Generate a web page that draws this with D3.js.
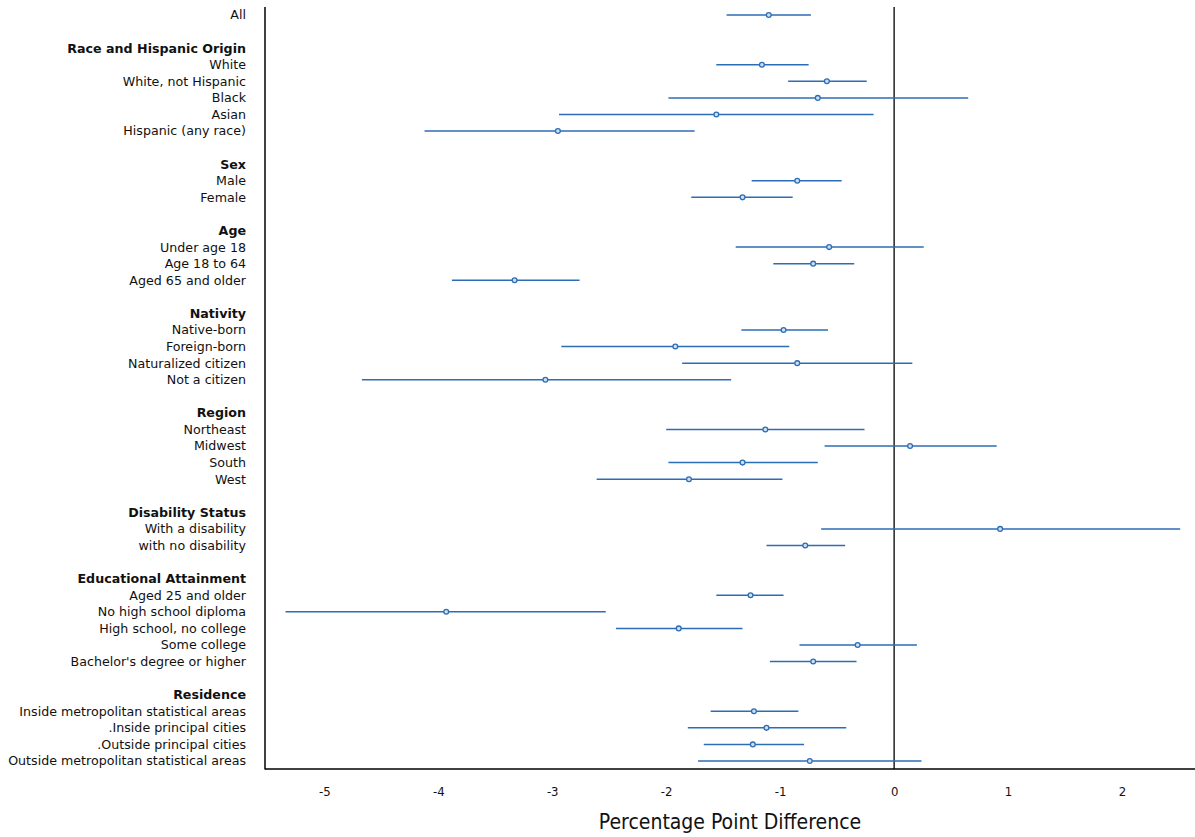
<!DOCTYPE html>
<html><head><meta charset="utf-8">
<script src="https://cdn.jsdelivr.net/npm/d3@7"></script>
<style>
body{margin:0;background:#fff;}
svg{display:block;}
.lbl{font-family:"DejaVu Sans",sans-serif;font-size:12.65px;fill:#111;}
.hdr{font-weight:bold;}
.tick text{font-family:"DejaVu Sans Condensed","DejaVu Sans",sans-serif;font-stretch:condensed;font-size:13px;fill:#111;}
.title{font-family:"DejaVu Sans Condensed","DejaVu Sans",sans-serif;font-stretch:condensed;font-size:21px;fill:#111;}
</style>
</head><body>
<svg id="chart" width="1195" height="837"></svg>
<script>
// Row labels (empty strings are spacer rows), header flags
const rowLabels = ["All","","Race and Hispanic Origin","White","White, not Hispanic","Black","Asian","Hispanic (any race)","",
 "Sex","Male","Female","","Age","Under age 18","Age 18 to 64","Aged 65 and older","",
 "Nativity","Native-born","Foreign-born","Naturalized citizen","Not a citizen","",
 "Region","Northeast","Midwest","South","West","",
 "Disability Status","With a disability","with no disability","",
 "Educational Attainment","Aged 25 and older","No high school diploma","High school, no college","Some college","Bachelor's degree or higher","",
 "Residence","Inside metropolitan statistical areas",".Inside principal cities",".Outside principal cities","Outside metropolitan statistical areas"];
const headers = ["Race and Hispanic Origin","Sex","Age","Nativity","Region","Disability Status","Educational Attainment","Residence"];

// Estimates and confidence interval bounds (percentage points)
const categories = ["All","White","White, not Hispanic","Black","Asian","Hispanic (any race)","Male","Female",
 "Under age 18","Age 18 to 64","Aged 65 and older","Native-born","Foreign-born","Naturalized citizen","Not a citizen",
 "Northeast","Midwest","South","West","With a disability","with no disability",
 "Aged 25 and older","No high school diploma","High school, no college","Some college","Bachelor's degree or higher",
 "Inside metropolitan statistical areas",".Inside principal cities",".Outside principal cities","Outside metropolitan statistical areas"];
const estimates = [-1.10,-1.16,-0.59,-0.67,-1.56,-2.95,-0.85,-1.33,
 -0.57,-0.71,-3.33,-0.97,-1.92,-0.85,-3.06,
 -1.13,0.14,-1.33,-1.80,0.93,-0.78,
 -1.26,-3.93,-1.89,-0.32,-0.71,
 -1.23,-1.12,-1.24,-0.74];
const lower = [-1.47,-1.56,-0.93,-1.98,-2.94,-4.12,-1.25,-1.78,
 -1.39,-1.06,-3.88,-1.34,-2.92,-1.86,-4.67,
 -2.00,-0.61,-1.98,-2.61,-0.64,-1.12,
 -1.56,-5.34,-2.44,-0.83,-1.09,
 -1.61,-1.81,-1.67,-1.72];
const upper = [-0.73,-0.75,-0.24,0.65,-0.18,-1.75,-0.46,-0.89,
 0.26,-0.35,-2.76,-0.58,-0.92,0.16,-1.43,
 -0.26,0.90,-0.67,-0.98,2.51,-0.43,
 -0.97,-2.53,-1.33,0.20,-0.33,
 -0.84,-0.42,-0.79,0.24];
const xTicks = [-5,-4,-3,-2,-1,0,1,2];
const xTitle = "Percentage Point Difference";

const svg = d3.select("#chart");
const pLeft = 265, pRight = 1195, pTop = 7, pBottom = 769;
const rowIds = rowLabels.map((d,i)=>"r"+i);
const y = d3.scalePoint().domain(rowIds).range([15, 761]);
const x = d3.scaleLinear().domain([-5.52, 2.64]).range([pLeft, pRight]);
const blue = "#2d6db5";

// row labels
svg.append("g").selectAll("text").data(rowLabels.map((t,i)=>({t,id:rowIds[i]})).filter(d=>d.t!==""))
 .join("text")
 .attr("class", d=>"lbl"+(headers.includes(d.t)?" hdr":""))
 .attr("x", 246).attr("y", d=>y(d.id)).attr("dy","0.35em")
 .attr("text-anchor","end").text(d=>d.t);

// axes frame
svg.append("line").attr("x1",pLeft).attr("x2",pLeft).attr("y1",pTop).attr("y2",pBottom+0.5).attr("stroke","#000").attr("stroke-width",1.5);
svg.append("line").attr("x1",pLeft).attr("x2",pRight).attr("y1",pBottom).attr("y2",pBottom).attr("stroke","#000").attr("stroke-width",1.5);
// zero line
svg.append("line").attr("x1",x(0)).attr("x2",x(0)).attr("y1",pTop).attr("y2",pBottom).attr("stroke","#000").attr("stroke-width",1.3);

// x axis ticks (labels only)
const xa = svg.append("g").attr("transform",`translate(0,${pBottom})`)
 .call(d3.axisBottom(x).tickValues(xTicks).tickSize(0).tickPadding(18).tickFormat(d=>String(d)));
xa.select(".domain").remove();
xa.selectAll(".tick text").attr("font-family",null).attr("font-size",null);

svg.append("text").attr("class","title").attr("x",(x(-5.52)+x(2.64))/2).attr("y",829)
 .attr("text-anchor","middle").text(xTitle);

// data rows
const data = categories.map((c,i)=>({id: rowIds[rowLabels.indexOf(c)], e: estimates[i], lo: lower[i], hi: upper[i]}));
const g = svg.append("g");
g.selectAll("line.ci").data(data).join("line").attr("class","ci")
 .attr("x1",d=>x(d.lo)).attr("x2",d=>x(d.hi)).attr("y1",d=>y(d.id)).attr("y2",d=>y(d.id))
 .attr("stroke",blue).attr("stroke-width",1.5);
g.selectAll("circle").data(data).join("circle")
 .attr("cx",d=>x(d.e)).attr("cy",d=>y(d.id)).attr("r",2.4)
 .attr("fill","#cfe0f3").attr("stroke",blue).attr("stroke-width",1.3);
</script>
</body></html>
